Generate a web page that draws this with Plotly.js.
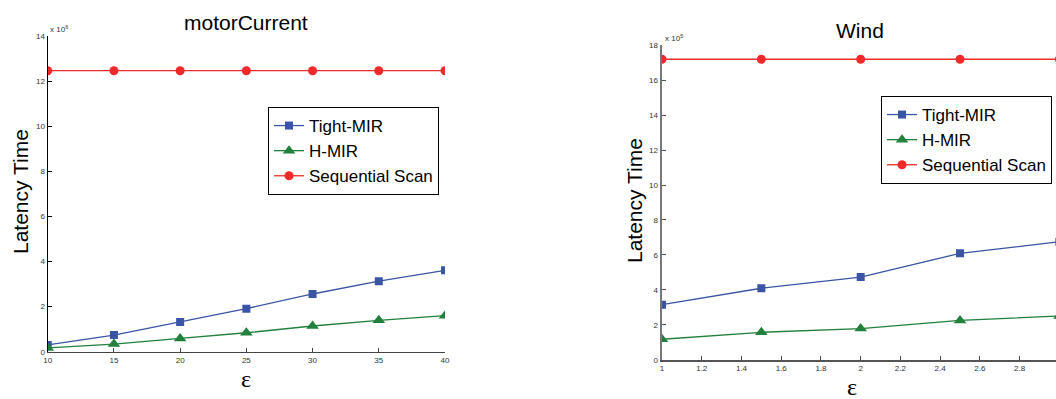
<!DOCTYPE html>
<html>
<head>
<meta charset="utf-8">
<script src="https://cdn.plot.ly/plotly-3.0.1.min.js"></script>
<style>html,body{margin:0;padding:0;background:#fff;}#chart{width:1056px;height:399px;}</style>
</head>
<body>
<div id="chart"></div>
<script>
// motorCurrent panel (latency in units of 10^6)
const epsMotor = [10, 15, 20, 25, 30, 35, 40];
const motorTight = [0.30, 0.74, 1.32, 1.91, 2.56, 3.13, 3.61];
const motorHMIR = [0.17, 0.34, 0.59, 0.84, 1.14, 1.39, 1.60];
const motorSeq = [12.46, 12.46, 12.46, 12.46, 12.46, 12.46, 12.46];

// Wind panel (latency in units of 10^5)
const epsWind = [1, 1.5, 2, 2.5, 3];
const windTight = [3.15, 4.09, 4.73, 6.09, 6.75];
const windHMIR = [1.17, 1.57, 1.78, 2.25, 2.50];
const windSeq = [17.2, 17.2, 17.2, 17.2, 17.2];

const seriesNames = ["Tight-MIR", "H-MIR", "Sequential Scan"];
const panelTitles = ["motorCurrent", "Wind"];
const yTitle = "Latency Time";
const xTitle = "ε";
const multipliers = ["x 10<sup>6</sup>", "x 10<sup>5</sup>"];

const blue = "#3a54a6", green = "#21803c", red = "#f02a2a";

function mk(x, y, name, color, symbol, size, xa, ya, leg) {
  return {
    x: x, y: y, name: name, type: "scatter", mode: "lines+markers",
    xaxis: xa, yaxis: ya, legend: leg, showlegend: true,
    line: {color: color, width: 1.3},
    marker: {color: color, symbol: symbol, size: size},
    cliponaxis: true
  };
}

const data = [
  mk(epsMotor, motorTight, seriesNames[0], blue, "square", 8, "x", "y", "legend"),
  mk(epsMotor, motorHMIR, seriesNames[1], green, "triangle-up", 11, "x", "y", "legend"),
  mk(epsMotor, motorSeq, seriesNames[2], red, "circle", 9, "x", "y", "legend"),
  mk(epsWind, windTight, seriesNames[0], blue, "square", 8, "x2", "y2", "legend2"),
  mk(epsWind, windHMIR, seriesNames[1], green, "triangle-up", 11, "x2", "y2", "legend2"),
  mk(epsWind, windSeq, seriesNames[2], red, "circle", 9, "x2", "y2", "legend2")
];

const sans = "Liberation Sans, Arial, sans-serif";
const tickFont = {family: sans, size: 8, color: "#333"};
const labFont = {family: sans, size: 21, color: "#000"};
const epsFont = {family: "Liberation Serif, Times New Roman, serif", size: 24, color: "#000"};
const legFont = {family: sans, size: 17, color: "#000"};

function axisBase(extra) {
  return Object.assign({
    showgrid: false, zeroline: false, showline: true,
    ticks: "inside", ticklen: 4, tickwidth: 1,
    tickfont: tickFont, fixedrange: true
  }, extra);
}

function ann(text, px, py, font, extra) {
  return Object.assign({text: text, x: px / 1056, y: 1 - py / 399, xref: "paper", yref: "paper",
    xanchor: "center", yanchor: "middle", showarrow: false, font: font}, extra || {});
}

const layout = {
  width: 1056, height: 399,
  margin: {l: 0, r: 0, t: 0, b: 0},
  paper_bgcolor: "#fff", plot_bgcolor: "rgba(0,0,0,0)",
  xaxis: axisBase({domain: [0.0452, 0.4214], range: [10, 40], tick0: 10, dtick: 5,
    linecolor: "#444", linewidth: 1.5, tickcolor: "#444", anchor: "y"}),
  yaxis: axisBase({domain: [0.1185, 0.9098], range: [0, 14], tick0: 0, dtick: 2,
    linecolor: "#000", linewidth: 1.2, tickcolor: "#000", anchor: "x"}),
  xaxis2: axisBase({domain: [0.6269, 1], range: [1, 2.983], tick0: 1, dtick: 0.2,
    linecolor: "#555", linewidth: 2, tickcolor: "#444", anchor: "y2"}),
  yaxis2: axisBase({domain: [0.0985, 0.8865], range: [0, 18], tick0: 0, dtick: 2,
    linecolor: "#777", linewidth: 2.5, tickcolor: "#555", anchor: "x2"}),
  legend: {x: 0.2538, y: 0.7318, xanchor: "left", yanchor: "top",
    bgcolor: "#fff", bordercolor: "#000", borderwidth: 1, font: legFont,
    tracegroupgap: 0, itemwidth: 30},
  legend2: {x: 0.8343, y: 0.7594, xanchor: "left", yanchor: "top",
    bgcolor: "#fff", bordercolor: "#000", borderwidth: 1, font: legFont,
    tracegroupgap: 0, itemwidth: 30},
  annotations: [
    ann(panelTitles[0], 246, 22, labFont),
    ann(panelTitles[1], 860, 30, labFont),
    ann(yTitle, 20, 192, labFont, {textangle: -90}),
    ann(yTitle, 634, 201, labFont, {textangle: -90}),
    ann(xTitle, 246, 379, epsFont),
    ann(xTitle, 852, 387, epsFont),
    ann(multipliers[0], 48, 29, tickFont, {xanchor: "left"}),
    ann(multipliers[1], 663, 38, tickFont, {xanchor: "left"})
  ]
};

Plotly.newPlot("chart", data, layout, {displayModeBar: false, staticPlot: true});
</script>
</body>
</html>
